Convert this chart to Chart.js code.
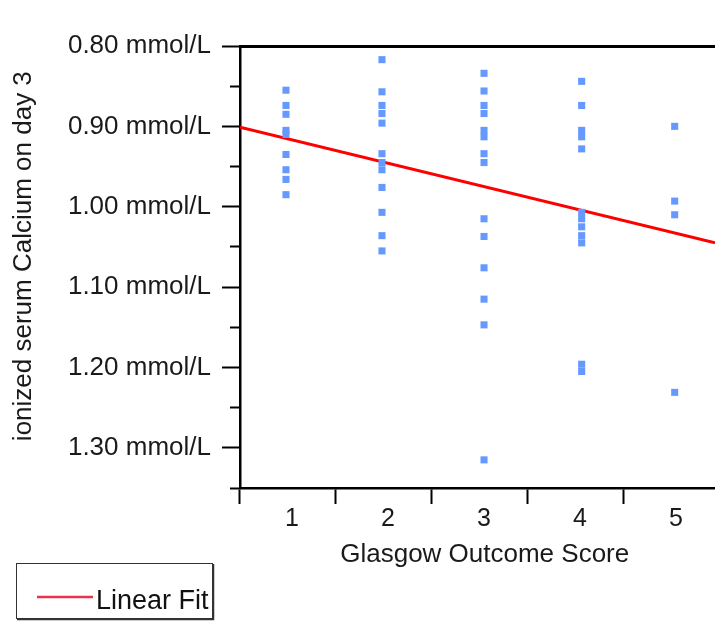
<!DOCTYPE html>
<html>
<head>
<meta charset="utf-8">
<script src="https://cdn.jsdelivr.net/npm/chart.js@4"></script>
<style>
  body { margin: 0; background: #fff; overflow: hidden; }
</style>
</head>
<body>
<canvas id="chart" width="715" height="621"></canvas>
<script>
const xTickValues = [1, 2, 3, 4, 5];
const xTickLabels = ['1', '2', '3', '4', '5'];
const yTickValues = [0.80, 0.85, 0.90, 0.95, 1.00, 1.05, 1.10, 1.15, 1.20, 1.25, 1.30, 1.35];
const yTickLabels = ['0.80 mmol/L', '', '0.90 mmol/L', '', '1.00 mmol/L', '', '1.10 mmol/L', '', '1.20 mmol/L', '', '1.30 mmol/L', ''];

// where each score column sits on the x axis
const columnX = [0.979, 1.979, 3.042, 4.059, 5.028];
const gos1 = [0.855, 0.874, 0.885, 0.905, 0.910, 0.935, 0.954, 0.966, 0.985];
const gos2 = [0.817, 0.857, 0.874, 0.884, 0.896, 0.934, 0.945, 0.954, 0.976, 1.007, 1.036, 1.055];
const gos3 = [0.834, 0.856, 0.874, 0.884, 0.905, 0.913, 0.934, 0.945, 1.015, 1.037, 1.076, 1.115, 1.147, 1.315];
const gos4 = [0.844, 0.874, 0.905, 0.913, 0.928, 1.007, 1.015, 1.025, 1.036, 1.045, 1.196, 1.205];
const gos5 = [0.900, 0.993, 1.010, 1.231];

const fitX = [0.5, 5.448];
const fitY = [0.901, 1.045];

const FONT = '"Liberation Sans", Arial, sans-serif';

const points = [];
[gos1, gos2, gos3, gos4, gos5].forEach((col, i) => {
  col.forEach(v => points.push({ x: columnX[i], y: v }));
});

// boxed legend in the lower left corner
const legendBox = {
  id: 'legendBox',
  afterDraw(chart) {
    const ctx = chart.ctx;
    const ds = chart.data.datasets.find(d => d.type === 'line');
    ctx.save();
    ctx.strokeStyle = '#333';
    ctx.lineWidth = 1;
    ctx.strokeRect(16.5, 563.5, 196, 55);
    ctx.lineWidth = 1.5;
    ctx.beginPath();
    ctx.moveTo(213.5, 564);
    ctx.lineTo(213.5, 619.5);
    ctx.lineTo(17, 619.5);
    ctx.stroke();
    ctx.strokeStyle = '#e8334f';
    ctx.lineWidth = 2.5;
    ctx.beginPath();
    ctx.moveTo(37, 597);
    ctx.lineTo(93, 597);
    ctx.stroke();
    ctx.fillStyle = '#111';
    ctx.font = '27px ' + FONT;
    ctx.textBaseline = 'alphabetic';
    ctx.fillText(ds.label, 96, 609);
    ctx.restore();
  }
};

const noSidePadding = (scale) => {
  scale.paddingLeft = 0;
  scale.paddingRight = 0;
};

new Chart(document.getElementById('chart'), {
  data: {
    datasets: [
      {
        type: 'scatter',
        label: 'ionized serum Calcium',
        data: points,
        pointStyle: 'rect',
        pointRadius: 5,
        pointBorderWidth: 0,
        backgroundColor: 'rgb(102, 153, 255)',
        borderColor: 'rgb(102, 153, 255)',
      },
      {
        type: 'line',
        label: 'Linear Fit',
        data: fitX.map((x, i) => ({ x, y: fitY[i] })),
        borderColor: 'rgb(255, 0, 0)',
        borderWidth: 3,
        pointRadius: 0,
      },
    ],
  },
  options: {
    responsive: false,
    animation: false,
    devicePixelRatio: 1,
    layout: { autoPadding: false, padding: { left: 0, right: 0, top: 46, bottom: 47 } },
    plugins: {
      legend: { display: false },
      tooltip: { enabled: false },
    },
    scales: {
      x: {
        type: 'linear',
        position: 'bottom',
        min: 0.5,
        max: 5.448,
        afterBuildTicks: (scale) => { scale.ticks = xTickValues.map(value => ({ value })); },
        afterFit: (scale) => { scale.height = 86; noSidePadding(scale); },
        border: { display: true, color: '#000', width: 2.5 },
        grid: {
          drawOnChartArea: false,
          offset: true,
          tickLength: 16,
          tickWidth: 2,
          tickColor: '#000',
        },
        ticks: {
          padding: 0,
          labelOffset: 4,
          color: '#1a1a1a',
          font: { family: FONT, size: 25 },
          callback: (v, i) => xTickLabels[i],
        },
        title: {
          display: true,
          text: '  Glasgow Outcome Score',
          color: '#1a1a1a',
          font: { family: FONT, size: 26 },
          padding: { top: 4, bottom: 4 },
        },
      },
      x2: {
        type: 'linear',
        axis: 'x',
        position: 'top',
        display: true,
        min: 0.5,
        max: 5.448,
        afterFit: (scale) => { scale.height = 0; noSidePadding(scale); },
        border: { display: true, color: '#000', width: 3 },
        grid: { display: false },
        ticks: { display: false },
      },
      y: {
        type: 'linear',
        position: 'left',
        reverse: true,
        min: 0.80,
        max: 1.35,
        afterBuildTicks: (scale) => { scale.ticks = yTickValues.map(value => ({ value })); },
        afterFit: (scale) => { scale.width = 240; },
        border: { display: true, color: '#000', width: 2.5 },
        grid: {
          drawOnChartArea: false,
          tickLength: 18,
          tickWidth: 2,
          tickColor: '#000',
          tickBorderDash: (ctx) => (yTickLabels[ctx.index] ? [] : [0, 8, 10, 100]),
        },
        ticks: {
          padding: 11,
          color: '#1a1a1a',
          font: { family: FONT, size: 26 },
          callback: (v, i) => yTickLabels[i],
        },
        title: {
          display: true,
          text: '   ionized serum Calcium on day 3',
          color: '#1a1a1a',
          font: { family: FONT, size: 26 },
          padding: { top: 8, bottom: 4 },
        },
      },
    },
  },
  plugins: [legendBox],
});
</script>
</body>
</html>
